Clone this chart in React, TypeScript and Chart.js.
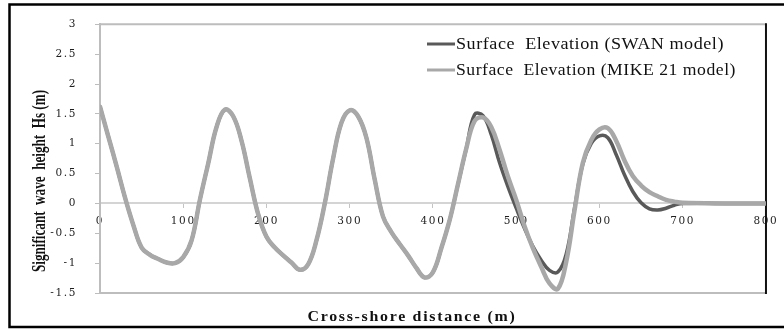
import React, { useEffect, useRef } from "react";
import { Chart, registerables } from "chart.js";

Chart.register(...registerables);

// Cross-shore distance (m)
const distance = [
  0, 10, 20, 30, 40, 50, 60, 70, 80, 90,
  100, 110, 120, 130, 140, 150, 160, 170, 180, 190,
  200, 210, 220, 230, 240, 250, 260, 270, 280, 290,
  300, 310, 320, 330, 340, 350, 360, 370, 380, 390,
  400, 410, 420, 430, 440, 450, 460, 470, 480, 490,
  500, 510, 520, 530, 540, 550, 560, 570, 580, 590,
  600, 610, 620, 630, 640, 650, 660, 670, 680, 690,
  700, 750, 800,
];

// Surface elevation (m), SWAN model
const swanElevation = [
  1.62, 1.12, 0.62, 0.1, -0.36, -0.74, -0.86, -0.93, -0.99, -1.0,
  -0.9, -0.62, 0.06, 0.67, 1.28, 1.57, 1.46, 1.05, 0.42, -0.18,
  -0.56, -0.74, -0.87, -0.99, -1.11, -1.02, -0.62, 0.0, 0.75, 1.35,
  1.56, 1.46, 1.1, 0.4, -0.22, -0.48, -0.68, -0.87, -1.08, -1.24,
  -1.15, -0.75, -0.28, 0.32, 0.92, 1.49, 1.47, 1.15, 0.68, 0.28,
  -0.08, -0.42, -0.72, -0.95, -1.12, -1.15, -0.85, -0.08, 0.66, 1.0,
  1.13, 1.1, 0.82, 0.48, 0.2, 0.01, -0.09, -0.11, -0.08, -0.03,
  0.0, 0.0, 0.0,
];

// Surface elevation (m), MIKE 21 model
const mikeElevation = [
  1.62, 1.12, 0.62, 0.1, -0.36, -0.74, -0.86, -0.93, -0.99, -1.0,
  -0.9, -0.62, 0.06, 0.67, 1.28, 1.57, 1.46, 1.05, 0.42, -0.18,
  -0.56, -0.74, -0.87, -0.99, -1.11, -1.02, -0.62, 0.0, 0.75, 1.35,
  1.56, 1.46, 1.1, 0.4, -0.22, -0.48, -0.68, -0.87, -1.08, -1.24,
  -1.15, -0.75, -0.28, 0.32, 0.92, 1.38, 1.44, 1.28, 0.9, 0.45,
  0.06, -0.38, -0.75, -1.06, -1.34, -1.43, -0.98, -0.12, 0.68, 1.06,
  1.24, 1.26, 1.05, 0.72, 0.46, 0.3, 0.19, 0.12, 0.06, 0.03,
  0.01, 0.0, 0.0,
];

const seriesLabels = [
  "Surface  Elevation (SWAN model)",
  "Surface  Elevation (MIKE 21 model)",
];
const seriesColors = ["#595959", "#a8a8a8"];

const xTitle = "Cross-shore distance (m)";
const yTitle = "Significant  wave  height  Hs (m)";

const tickFont = { family: "'DejaVu Serif', serif", size: 10.5 };

// Draws text stretched or squeezed so that it spans a given width.
function drawFitted(
  ctx: CanvasRenderingContext2D,
  text: string,
  cx: number,
  cy: number,
  width: number,
  font: string,
  color: string,
  angle = 0,
  spacing = "0px"
) {
  ctx.save();
  ctx.font = font;
  (ctx as any).letterSpacing = spacing;
  ctx.fillStyle = color;
  ctx.textAlign = "left";
  ctx.textBaseline = "middle";
  const w = ctx.measureText(text).width;
  ctx.translate(cx, cy);
  ctx.rotate(angle);
  ctx.scale(width / w, 1);
  ctx.fillText(text, -w / 2, 0);
  ctx.restore();
}

const decorPlugin = {
  id: "decor",
  beforeDraw(chart: any) {
    (chart.ctx as any).letterSpacing = "1.6px";
  },
  beforeDatasetsDraw(chart: any) {
    const { ctx, chartArea } = chart;
    const { left, right, top, bottom } = chartArea;
    ctx.save();
    (ctx as any).letterSpacing = "0px";
    ctx.lineWidth = 2;
    ctx.strokeStyle = "#bdbdbd";
    ctx.beginPath();
    ctx.moveTo(left, top);
    ctx.lineTo(right, top);
    ctx.moveTo(left, bottom);
    ctx.lineTo(right, bottom);
    ctx.stroke();
    ctx.strokeStyle = "#111";
    ctx.beginPath();
    ctx.moveTo(right, top - 1);
    ctx.lineTo(right, bottom + 1);
    ctx.stroke();
    ctx.restore();
  },
  afterDraw(chart: any) {
    const ctx: CanvasRenderingContext2D = chart.ctx;
    ctx.save();
    (ctx as any).letterSpacing = "0px";

    // outer frame
    ctx.strokeStyle = "#000";
    ctx.lineWidth = 2.5;
    ctx.beginPath();
    ctx.moveTo(790, 4.5);
    ctx.lineTo(9.5, 4.5);
    ctx.lineTo(9.5, 327);
    ctx.lineTo(790, 327);
    ctx.stroke();

    // legend
    const rows = [44, 70];
    const widths = [268, 280];
    rows.forEach((y, i) => {
      ctx.strokeStyle = seriesColors[i];
      ctx.lineWidth = 3;
      ctx.beginPath();
      ctx.moveTo(427, y);
      ctx.lineTo(455, y);
      ctx.stroke();
      drawFitted(
        ctx,
        seriesLabels[i],
        456 + widths[i] / 2,
        y + 0.5,
        widths[i],
        "17px 'Liberation Serif', serif",
        "#111",
        0,
        "0.5px"
      );
    });

    // axis titles
    drawFitted(
      ctx,
      xTitle,
      412,
      317,
      209,
      "bold 14px 'Liberation Serif', serif",
      "#111",
      0,
      "1.5px"
    );
    drawFitted(
      ctx,
      yTitle,
      40,
      181,
      182,
      "bold 18px 'Liberation Serif', serif",
      "#111",
      -Math.PI / 2
    );
    ctx.restore();
  },
};

export default function App() {
  const canvasRef = useRef<HTMLCanvasElement | null>(null);

  useEffect(() => {
    if (!canvasRef.current) return;
    const makeData = (vals: number[]) =>
      distance.map((x, i) => ({ x, y: vals[i] }));

    const chart = new Chart(canvasRef.current, {
      type: "line",
      data: {
        datasets: [
          {
            label: seriesLabels[0],
            data: makeData(swanElevation),
            borderColor: seriesColors[0],
            borderWidth: 3.5,
            pointRadius: 0,
            tension: 0.4,
            borderCapStyle: "round",
            borderJoinStyle: "round",
            order: 1,
          },
          {
            label: seriesLabels[1],
            data: makeData(mikeElevation),
            borderColor: seriesColors[1],
            borderWidth: 4.5,
            pointRadius: 0,
            tension: 0.4,
            borderCapStyle: "round",
            borderJoinStyle: "round",
            order: 0,
          },
        ],
      },
      options: {
        animation: false,
        responsive: true,
        maintainAspectRatio: false,
        layout: { padding: { top: 24, right: 13, bottom: 36, left: 0 } },
        plugins: {
          legend: { display: false },
          tooltip: { enabled: false },
        },
        scales: {
          x: {
            type: "linear",
            min: 0,
            max: 800,
            position: { y: 0 } as any,
            ticks: {
              stepSize: 100,
              callback: (v: any) => String(v),
              font: tickFont,
              color: "#1e1e1e",
              padding: 8,
              maxRotation: 0,
            },
            grid: { drawOnChartArea: false, tickLength: 4, color: "#c4c4c4" },
            border: { color: "#d4d4d4", width: 2 },
          },
          y: {
            type: "linear",
            min: -1.5,
            max: 3,
            afterFit: (s: any) => {
              s.width = 100;
            },
            ticks: {
              stepSize: 0.5,
              callback: (v: any) => String(v),
              font: tickFont,
              color: "#1e1e1e",
              padding: 18,
            },
            grid: { drawOnChartArea: false, tickLength: 5, color: "#bdbdbd" },
            border: { color: "#bdbdbd", width: 2 },
          },
        },
      },
      plugins: [decorPlugin],
    });

    return () => chart.destroy();
  }, []);

  return (
    <div
      style={{
        position: "fixed",
        left: 0,
        top: 0,
        width: 784,
        height: 329,
        background: "#fff",
      }}
    >
      <canvas ref={canvasRef} />
    </div>
  );
}
